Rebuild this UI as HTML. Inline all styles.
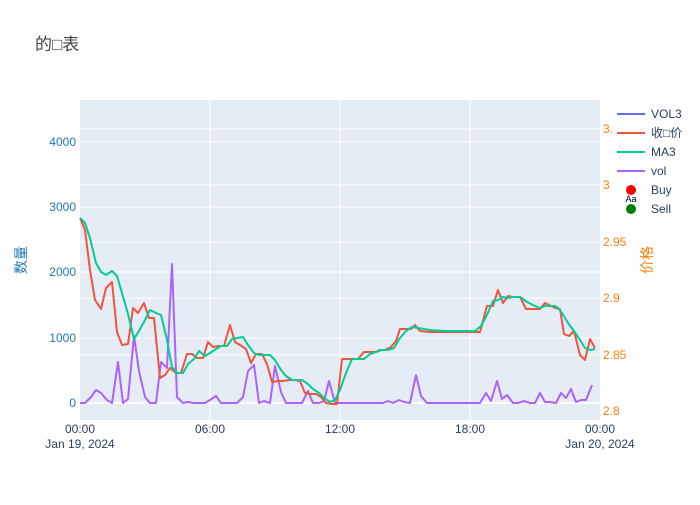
<!DOCTYPE html>
<html><head><meta charset="utf-8"><style>
body{margin:0;background:#fff;font-family:"Liberation Sans","Noto Sans CJK SC",sans-serif}
</style></head><body>
<svg width="700" height="500" xmlns="http://www.w3.org/2000/svg" font-family="'Liberation Sans','Noto Sans CJK SC',sans-serif">
<rect width="700" height="500" fill="#fff"/>
<text x="35" y="50" font-size="17" fill="#444">的□表</text>
<rect x="80" y="100" width="520" height="320" fill="#e5ecf6"/>
<g stroke="#fff" stroke-width="1">
<line x1="80" x2="600" y1="338" y2="338"/><line x1="80" x2="600" y1="272" y2="272"/><line x1="80" x2="600" y1="207" y2="207"/><line x1="80" x2="600" y1="142" y2="142"/>
<line x1="80" x2="600" y1="355" y2="355"/><line x1="80" x2="600" y1="298" y2="298"/><line x1="80" x2="600" y1="242" y2="242"/><line x1="80" x2="600" y1="185" y2="185"/><line x1="80" x2="600" y1="129" y2="129"/>
<line x1="210" x2="210" y1="100" y2="420"/><line x1="340" x2="340" y1="100" y2="420"/><line x1="470" x2="470" y1="100" y2="420"/>
</g>
<line x1="80" x2="600" y1="403" y2="403" stroke="#fff" stroke-width="2"/>
<g font-size="12" fill="#1f77b4" text-anchor="end">
<text x="76" y="407">0</text><text x="76" y="342">1000</text><text x="76" y="276">2000</text><text x="76" y="211">3000</text><text x="76" y="146">4000</text>
</g>
<g font-size="12" fill="#ff7f0e">
<text x="603" y="415">2.8</text><text x="603" y="359">2.85</text><text x="603" y="302">2.9</text><text x="603" y="246">2.95</text><text x="603" y="189">3</text><text x="603" y="133">3.</text>
</g>
<g font-size="12" fill="#2a3f5f" text-anchor="middle">
<text x="80" y="433">00:00</text><text x="80" y="448">Jan 19, 2024</text><text x="210" y="433">06:00</text><text x="340" y="433">12:00</text><text x="470" y="433">18:00</text><text x="600" y="433">00:00</text><text x="600" y="448">Jan 20, 2024</text>
</g>
<text transform="translate(26,260) rotate(-90)" font-size="14" fill="#1f77b4" text-anchor="middle">数量</text>
<text transform="translate(652,260) rotate(-90)" font-size="14" fill="#ff7f0e" text-anchor="middle">价格</text>
<g fill="none" stroke-width="2" stroke-linejoin="round">
<polyline stroke="#ab63fa" points="80,403 85,403 91,397 96,390 101,393 107,400 112,403 118,362 123,403 128,399 134,336 139,371 145,397 150,403 156,403 161,362 167,368 172,264 177,397 183,403 188,402 194,403 199,403 205,403 210,400 216,396 221,403 227,403 232,403 237,403 243,397 248,371 254,365 259,403 264,401 270,403 275,366 281,392 286,403 292,403 297,403 302,403 308,391 313,403 319,403 324,401 329,381 335,403 340,403 364,403 383,403 388,401 393,403 399,400 404,402 410,403 416,375 421,396 427,403 480,403 486,393 491,401 497,381 502,399 507,395 513,403 518,403 524,401 530,403 535,403 540,393 545,402 550,402 556,403 561,393 566,398 571,389 576,402 581,400 586,400 592,385"/>
<polyline stroke="#ef553b" points="80,218 85,230 90,270 95,300 101,309 106,288 112,282 117,332 122,345 128,344 133,308 138,313 144,303 149,318 154,318 160,378 165,375 170,368 176,373 181,373 187,354 192,354 197,358 203,358 208,342 213,347 219,346 224,346 230,325 235,342 240,345 246,349 251,363 256,354 262,354 267,364 272,382 278,381 283,381 289,380 294,380 300,381 305,393 310,394 316,394 321,397 326,403 332,404 337,404 342,359 348,359 353,359 358,359 364,352 369,352 375,352 380,350 385,350 391,347 396,341 400,329 405,329 411,329 415,325 420,331 430,332 440,332 450,332 460,332 480,332 487,306 493,306 498,290 503,303 508,296 513,297 520,297 526,309 540,309 545,303 555,308 560,309 564,334 569,336 574,331 580,355 585,360 590,339 595,348"/>
<polyline stroke="#00cc96" points="80,218 85,223 90,238 96,263 101,272 106,275 112,271 117,276 122,293 128,314 134,339 139,331 145,320 150,310 156,313 161,315 167,340 172,367 177,373 183,373 188,364 194,359 199,351 205,356 210,353 216,349 221,346 227,346 232,339 237,338 243,337 248,345 254,353 259,355 264,355 270,355 275,360 281,370 286,376 292,380 297,380 302,380 308,384 313,389 319,393 324,398 330,402 335,400 340,390 346,373 352,359 358,359 364,359 370,354 376,352 382,350 388,350 394,348 400,338 406,331 412,327 418,328 424,329 430,330 445,331 475,331 481,326 487,315 493,301 498,300 503,297 508,298 513,297 520,297 527,302 535,306 540,308 545,306 555,306 558,308 562,313 568,323 574,331 580,340 585,348 590,350 595,349"/>
</g>
<g font-size="12" fill="#2a3f5f">
<line x1="617" x2="645" y1="114" y2="114" stroke="#636efa" stroke-width="2"/><text x="651" y="118">VOL3</text>
<line x1="617" x2="645" y1="133" y2="133" stroke="#ef553b" stroke-width="2"/><text x="651" y="137">收□价</text>
<line x1="617" x2="645" y1="152" y2="152" stroke="#00cc96" stroke-width="2"/><text x="651" y="156">MA3</text>
<line x1="617" x2="645" y1="171" y2="171" stroke="#ab63fa" stroke-width="2"/><text x="651" y="175">vol</text>
<circle cx="631" cy="190" r="5" fill="red"/><text x="651" y="194">Buy</text>
<text x="631" y="202" font-size="9" fill="#000" text-anchor="middle">Aa</text>
<circle cx="631" cy="209" r="5" fill="green"/><text x="651" y="213">Sell</text>
</g>
</svg>
</body></html>
